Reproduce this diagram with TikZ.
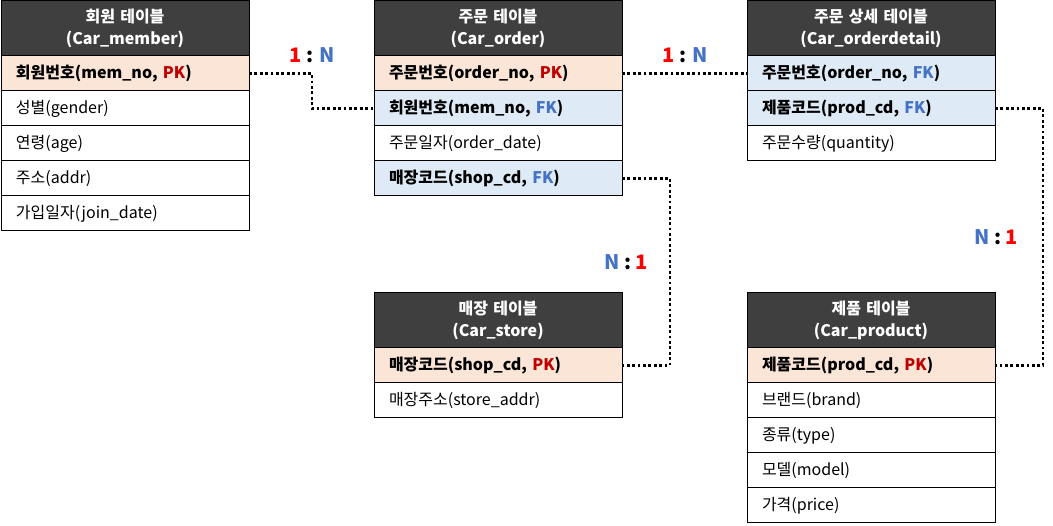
\documentclass[tikz,border=0pt]{standalone}
\usepackage{fontspec}
\setmainfont{Noto Sans CJK KR}
\definecolor{hdrgray}{HTML}{3F3F3F}
\definecolor{pkfill}{HTML}{FBE5D6}
\definecolor{fkfill}{HTML}{DEEBF7}
\definecolor{pkred}{HTML}{C00000}
\definecolor{fkblue}{HTML}{4472C4}
\definecolor{onered}{HTML}{FF0000}
\newcommand{\PKt}{\textcolor{pkred}{PK}}
\newcommand{\FKt}{\textcolor{fkblue}{FK}}
\newcommand{\onen}{\textcolor{onered}{1} : \textcolor{fkblue}{N}}
\newcommand{\none}{\textcolor{fkblue}{N} : \textcolor{onered}{1}}
\tikzset{
  hdr/.style={draw=black, line width=1pt, fill=hdrgray, text=white, outer sep=0pt,
    font=\fontsize{16}{22}\selectfont\bfseries, minimum height=55pt,
    text width=248pt, inner xsep=0pt, align=center, anchor=north west},
  row/.style={draw=black, line width=1pt, fill=white, minimum height=35pt, outer sep=0pt,
    text width=218pt, inner xsep=15pt, inner ysep=0pt, align=left,
    anchor=north west, font=\fontsize{16}{18}\selectfont},
  pk/.style={row, fill=pkfill, font=\fontsize{16}{18}\selectfont\bfseries},
  fk/.style={row, fill=fkfill, font=\fontsize{16}{18}\selectfont\bfseries},
  conn/.style={line width=2.8pt, dash pattern=on 2.8pt off 2.6pt, black},
  card/.style={font=\fontsize{20}{22}\selectfont\bfseries}
}
\begin{document}
\begin{tikzpicture}[x=1pt, y=-1pt]
\useasboundingbox (0,0) rectangle (1053,526);
% member
\node[hdr] (mh) at (1,1) {회원 테이블\\(Car\_member)};
\node[pk] (m1) at (mh.south west) {회원번호(mem\_no, \PKt)};
\node[row] (m2) at (m1.south west) {성별(gender)};
\node[row] (m3) at (m2.south west) {연령(age)};
\node[row] (m4) at (m3.south west) {주소(addr)};
\node[row] (m5) at (m4.south west) {가입일자(join\_date)};
% order
\node[hdr] (oh) at (374,1) {주문 테이블\\(Car\_order)};
\node[pk] (o1) at (oh.south west) {주문번호(order\_no, \PKt)};
\node[fk] (o2) at (o1.south west) {회원번호(mem\_no, \FKt)};
\node[row] (o3) at (o2.south west) {주문일자(order\_date)};
\node[fk] (o4) at (o3.south west) {매장코드(shop\_cd, \FKt)};
% detail
\node[hdr] (dh) at (747,1) {주문 상세 테이블\\(Car\_orderdetail)};
\node[fk] (d1) at (dh.south west) {주문번호(order\_no, \FKt)};
\node[fk] (d2) at (d1.south west) {제품코드(prod\_cd, \FKt)};
\node[row] (d3) at (d2.south west) {주문수량(quantity)};
% store
\node[hdr] (sh) at (374,293) {매장 테이블\\(Car\_store)};
\node[pk] (s1) at (sh.south west) {매장코드(shop\_cd, \PKt)};
\node[row] (s2) at (s1.south west) {매장주소(store\_addr)};
% product
\node[hdr] (ph) at (747,293) {제품 테이블\\(Car\_product)};
\node[pk] (p1) at (ph.south west) {제품코드(prod\_cd, \PKt)};
\node[row] (p2) at (p1.south west) {브랜드(brand)};
\node[row] (p3) at (p2.south west) {종류(type)};
\node[row] (p4) at (p3.south west) {모델(model)};
\node[row] (p5) at (p4.south west) {가격(price)};
% connectors
\draw[conn] (m1.east) -- ++(63,0) |- (o2.west);
\draw[conn] (o1.east) -- (d1.west);
\draw[conn] (o4.east) -- ++(48,0) |- (s1.east);
\draw[conn] (d2.east) -- ++(48,0) |- (p1.east);
% cardinalities
\node[card] (c1) at (312,55) {\onen};
\node[card] (c2) at (685,55) {\onen};
\node[card] (c3) at (626,262) {\none};
\node[card] (c4) at (996,237) {\none};
\end{tikzpicture}
\end{document}
